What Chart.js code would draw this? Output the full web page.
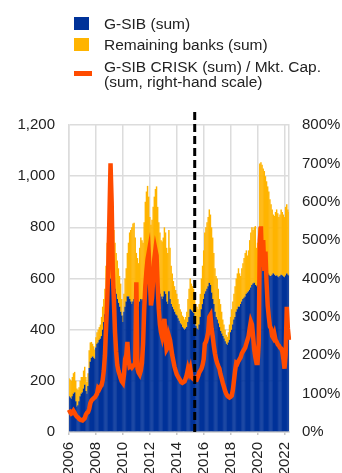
<!DOCTYPE html>
<html>
<head>
<meta charset="utf-8">
<script src="https://cdn.jsdelivr.net/npm/chart.js@4"></script>
<style>
  html, body { margin: 0; padding: 0; background: #fff; overflow: hidden; }
  #wrap { position: relative; width: 342px; height: 473px; }
  #c { position: absolute; left: 0; top: 0; }
  .legend { position: absolute; left: 0; top: 0; width: 342px; height: 100px;
            font-family: 'Liberation Sans', Arial, sans-serif; font-size: 15.5px; color: #222; }
  .sw { position: absolute; left: 74px; }
  .lt { position: absolute; left: 104px; white-space: nowrap; line-height: 15px; }
</style>
</head>
<body>
<div id="wrap">
  <canvas id="c" width="342" height="473"></canvas>
  <div class="legend">
    <div class="sw" style="top:17px;width:15px;height:13px;background:#003299"></div>
    <div class="lt" style="top:16px">G-SIB (sum)</div>
    <div class="sw" style="top:38px;width:15px;height:13px;background:#FFB400"></div>
    <div class="lt" style="top:37px">Remaining banks (sum)</div>
    <div class="sw" style="top:71px;width:18px;height:5px;background:#FF4B00"></div>
    <div class="lt" style="top:59px">G-SIB CRISK (sum) / Mkt. Cap.<br>(sum, right-hand scale)</div>
  </div>
</div>
<script>
// Monthly observations, January 2006 to May 2022
const firstYear = 2006;
const monthCount = 197;
const yearTicks = ['2006','2008','2010','2012','2014','2016','2018','2020','2022'];
const markerMonth = '2015-05';   // dashed vertical marker

// G-SIB CRISK, sum (left scale)
const gsib = [
  140,135,130,140,150,155,120,100,105,120,140,150,
  155,170,185,160,150,180,250,275,290,295,290,285,
  330,345,350,360,365,375,400,430,460,500,540,575,
  595,600,605,600,580,560,540,520,505,490,470,455,
  430,470,490,510,530,530,520,510,500,510,520,505,
  500,495,490,510,520,515,520,540,570,590,600,580,
  575,570,590,610,630,640,620,580,550,540,530,520,
  530,550,540,510,500,550,520,500,490,480,470,460,
  455,445,435,425,420,410,405,400,405,410,430,450,
  480,475,470,465,430,415,405,400,420,450,480,500,
  520,540,550,560,570,583,575,545,520,500,470,450,
  440,425,410,395,385,375,365,355,345,340,350,360,
  390,400,420,440,450,470,480,490,490,500,510,520,
  525,530,540,545,550,556,565,575,580,583,575,570,
  575,590,680,690,670,650,640,680,630,620,615,610,
  610,615,620,615,610,612,608,605,610,615,612,608,
  605,612,620,615,610
];

// Remaining banks CRISK, sum (left scale, stacked on G-SIB)
const remaining = [
  70,70,70,75,80,80,80,70,60,55,60,65,
  60,70,70,55,45,50,70,75,62,50,45,37,
  40,45,50,50,55,75,90,90,100,150,200,205,
  185,200,205,215,210,180,160,150,135,120,110,65,
  25,70,110,130,170,210,260,280,300,305,298,255,
  200,185,170,210,240,235,220,280,330,350,362,340,
  265,240,240,270,290,310,340,300,270,240,220,225,
  230,250,240,210,200,240,200,150,130,110,100,95,
  85,75,65,55,50,45,45,40,45,60,90,110,
  120,105,100,95,90,85,85,80,80,90,120,150,
  190,240,250,260,270,287,275,255,240,200,170,160,
  160,135,110,105,85,65,55,45,35,32,40,60,
  60,80,90,100,120,130,140,150,130,110,130,140,
  155,170,170,145,160,194,215,225,210,217,230,150,
  165,210,370,364,375,380,380,320,350,340,325,300,
  280,255,230,230,250,258,247,235,240,255,248,242,
  235,268,270,255,250
];

// G-SIB CRISK (sum) / market capitalisation (sum), % (right scale)
const criskRatio = [
  58,52,48,50,55,50,44,40,38,34,32,31,
  30,33,36,45,50,52,60,75,82,85,88,90,
  95,100,115,112,118,122,135,160,200,270,340,430,
  560,700,600,420,340,260,210,175,160,150,140,132,
  128,150,190,200,235,190,170,172,168,172,175,180,
  390,165,155,150,160,180,230,320,380,420,450,467,
  400,330,350,400,450,475,460,380,320,280,260,248,
  265,295,250,215,220,250,240,220,200,185,170,160,
  150,145,140,135,130,128,130,132,140,150,165,155,
  165,145,140,138,135,140,138,145,155,160,165,175,
  190,230,235,245,260,300,305,270,250,225,205,190,
  180,172,165,150,140,128,118,108,100,95,92,90,
  92,95,110,135,160,180,178,185,190,195,205,210,
  215,220,230,240,250,270,288,280,250,215,195,180,
  180,230,500,536,430,500,420,470,390,330,300,275,
  270,250,245,255,240,235,228,225,220,218,210,190,
  165,200,326,270,240
];

// Month labels "YYYY-MM"
const months = [];
for (let i = 0; i < monthCount; i++) {
  const y = firstYear + Math.floor(i / 12);
  const m = (i % 12) + 1;
  months.push(y + '-' + (m < 10 ? '0' + m : m));
}
const isYearTick = (i) => {
  const lab = months[i];
  return lab && lab.endsWith('-01') && yearTicks.includes(lab.slice(0, 4));
};

const BLUE = '#003299', YELLOW = '#FFB400', ORANGE = '#FF4B00';
const GRID = '#dcdcdc';

Chart.defaults.font.family = "'Liberation Sans', Arial, sans-serif";
Chart.defaults.font.size = 15;
Chart.defaults.color = '#222';

const dashedMarker = {
  id: 'dashedMarker',
  afterDatasetsDraw(chart) {
    const xs = chart.scales.x;
    const x = xs.getPixelForValue(months.indexOf(markerMonth));
    const { ctx, chartArea } = chart;
    ctx.save();
    ctx.strokeStyle = '#000';
    ctx.lineWidth = 3;
    ctx.setLineDash([8, 4]);
    ctx.beginPath();
    ctx.moveTo(x, chartArea.top - 13);
    ctx.lineTo(x, chartArea.bottom);
    ctx.stroke();
    ctx.restore();
  }
};

new Chart(document.getElementById('c'), {
  type: 'bar',
  data: {
    labels: months,
    datasets: [
      {
        type: 'line',
        label: 'G-SIB CRISK (sum) / Mkt. Cap. (sum, right-hand scale)',
        data: criskRatio,
        yAxisID: 'y1',
        borderColor: ORANGE,
        backgroundColor: ORANGE,
        borderWidth: 4.5,
        pointRadius: 0,
        tension: 0,
        order: 0
      },
      {
        label: 'G-SIB (sum)',
        data: gsib,
        yAxisID: 'y',
        backgroundColor: BLUE,
        borderWidth: 0,
        barPercentage: 1.3,
        categoryPercentage: 1,
        stack: 's',
        order: 1
      },
      {
        label: 'Remaining banks (sum)',
        data: remaining,
        yAxisID: 'y',
        backgroundColor: YELLOW,
        borderWidth: 0,
        barPercentage: 1.3,
        categoryPercentage: 1,
        stack: 's',
        order: 1
      }
    ]
  },
  options: {
    responsive: false,
    animation: false,
    layout: { padding: { top: 125, left: 0, right: 0, bottom: 0 } },
    plugins: { legend: { display: false }, tooltip: { enabled: false } },
    scales: {
      x: {
        type: 'category',
        stacked: true,
        offset: false,
        grid: {
          offset: false,
          drawTicks: true,
          tickLength: 3,
          lineWidth: 1.5,
          color: (ctx) => (isYearTick(ctx.index) ? GRID : 'rgba(0,0,0,0)'),
          tickColor: (ctx) => (isYearTick(ctx.index) ? '#c8c8c8' : 'rgba(0,0,0,0)')
        },
        border: { display: true, color: '#c4c4c4', width: 1.5 },
        ticks: {
          autoSkip: false,
          minRotation: 90,
          maxRotation: 90,
          padding: 7,
          callback: (v, i) => (isYearTick(i) ? months[i].slice(0, 4) : '')
        },
        afterFit: (s) => { s.height = 41; }
      },
      y: {
        position: 'left',
        stacked: true,
        min: 0,
        max: 1200,
        grid: { color: GRID, lineWidth: 1.5, drawTicks: false },
        border: { display: true, color: GRID, width: 1.5 },
        ticks: {
          stepSize: 200,
          padding: 14,
          callback: (v) => v.toLocaleString('en-US')
        },
        afterFit: (s) => { s.width = 69; }
      },
      y1: {
        position: 'right',
        min: 0,
        max: 800,
        grid: { display: false, drawTicks: false },
        border: { display: true, color: GRID, width: 1.5 },
        ticks: {
          stepSize: 100,
          padding: 13,
          callback: (v) => v + '%'
        },
        afterFit: (s) => { s.width = 53; }
      }
    }
  },
  plugins: [dashedMarker]
});
</script>
</body>
</html>
